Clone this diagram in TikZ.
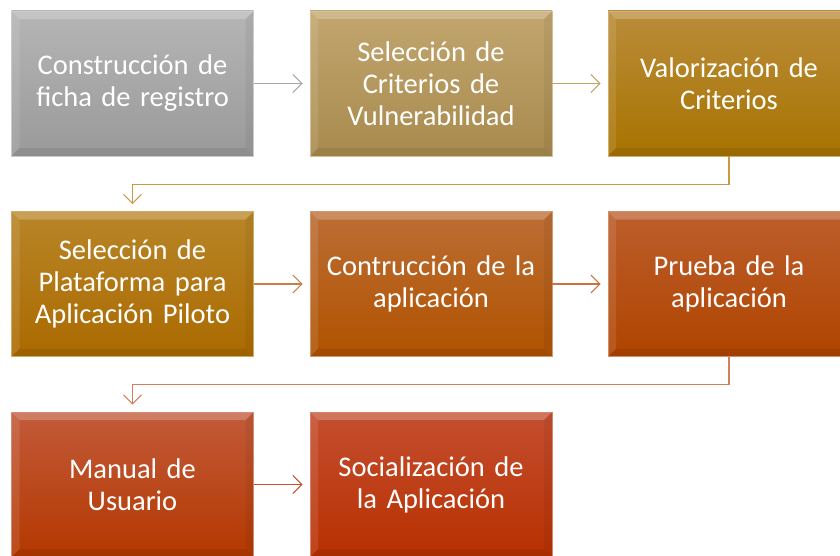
\documentclass[tikz,border=0pt]{standalone}
\usepackage{fontspec}
\setmainfont{Carlito}
\usetikzlibrary{arrows.meta,shadings}
\definecolor{cAt}{HTML}{B5B5B5}\definecolor{cAb}{HTML}{9A9A9A}
\definecolor{cBt}{HTML}{C2A66E}\definecolor{cBb}{HTML}{A88A4E}
\definecolor{cCt}{HTML}{BA8C3A}\definecolor{cCb}{HTML}{A87300}
\definecolor{cDt}{HTML}{B88528}\definecolor{cDb}{HTML}{AB6A00}
\definecolor{cEt}{HTML}{BC6E34}\definecolor{cEb}{HTML}{B05200}
\definecolor{cFt}{HTML}{BC5E2C}\definecolor{cFb}{HTML}{B04400}
\definecolor{cGt}{HTML}{C25A3A}\definecolor{cGb}{HTML}{B43800}
\definecolor{cHt}{HTML}{C44E30}\definecolor{cHb}{HTML}{B83000}
\definecolor{aA}{HTML}{A6A6A6}\definecolor{aB}{HTML}{C2A46A}
\definecolor{aC}{HTML}{C89A48}\definecolor{aD}{HTML}{C8804A}
\definecolor{aE}{HTML}{CC7040}\definecolor{aF}{HTML}{D0805A}
\definecolor{aG}{HTML}{C85030}
\tikzset{
  stepbox/.style 2 args={rectangle, minimum width=242pt, minimum height=145pt,
    inner sep=0pt, text width=238pt, align=center, text=white,
    font=\fontsize{28.5}{32}\selectfont,
    top color=#1, bottom color=#2, draw=#1!70!white, line width=0.8pt,
    path picture={
      \fill[white,opacity=.22] (path picture bounding box.north west) -- (path picture bounding box.north east)
        -- ([xshift=-8pt,yshift=-8pt]path picture bounding box.north east) -- ([xshift=8pt,yshift=-8pt]path picture bounding box.north west) -- cycle;
      \fill[white,opacity=.10] (path picture bounding box.north west) -- ([xshift=8pt,yshift=-8pt]path picture bounding box.north west)
        -- ([xshift=8pt,yshift=8pt]path picture bounding box.south west) -- (path picture bounding box.south west) -- cycle;
      \fill[black,opacity=.08] (path picture bounding box.south west) -- ([xshift=8pt,yshift=8pt]path picture bounding box.south west)
        -- ([xshift=-8pt,yshift=8pt]path picture bounding box.south east) -- (path picture bounding box.south east) -- cycle;
      \fill[black,opacity=.05] (path picture bounding box.north east) -- ([xshift=-8pt,yshift=-8pt]path picture bounding box.north east)
        -- ([xshift=-8pt,yshift=8pt]path picture bounding box.south east) -- (path picture bounding box.south east) -- cycle;
    }},
  conn/.style={draw=#1, line width=1.1pt, -{Straight Barb[length=9pt,width=18pt,line width=1.1pt]}, shorten >=7pt}
}
\begin{document}
\begin{tikzpicture}[x=1pt,y=-1pt]
\useasboundingbox (0,0) rectangle (840,556);
\clip (0,0) rectangle (840,556);
\node[stepbox={cAt}{cAb}] (b1) at (132.5,83.5) {Construcción de\\ficha de registro};
\node[stepbox={cBt}{cBb}] (b2) at (431,83.5) {Selección de\\Criterios de\\Vulnerabilidad};
\node[stepbox={cCt}{cCb}] (b3) at (729,83.5) {Valorización de\\Criterios};
\node[stepbox={cDt}{cDb}] (b4) at (132.5,284) {Selección de\\Plataforma para\\Aplicación Piloto};
\node[stepbox={cEt}{cEb}] (b5) at (431,284) {Contrucción de la\\aplicación};
\node[stepbox={cFt}{cFb}] (b6) at (729,284) {Prueba de la\\aplicación};
\node[stepbox={cGt}{cGb}] (b7) at (132.5,484.5) {Manual de\\Usuario};
\node[stepbox={cHt}{cHb}] (b8) at (431,484.5) {Socialización de\\la Aplicación};
\draw[conn=aA] (b1) -- (b2);
\draw[conn=aB] (b2) -- (b3);
\draw[conn=aC] (b3.south) -- ++(0,28) -| (b4.north);
\draw[conn=aD] (b4) -- (b5);
\draw[conn=aE] (b5) -- (b6);
\draw[conn=aF] (b6.south) -- ++(0,28) -| (b7.north);
\draw[conn=aG] (b7) -- (b8);
\end{tikzpicture}
\end{document}
